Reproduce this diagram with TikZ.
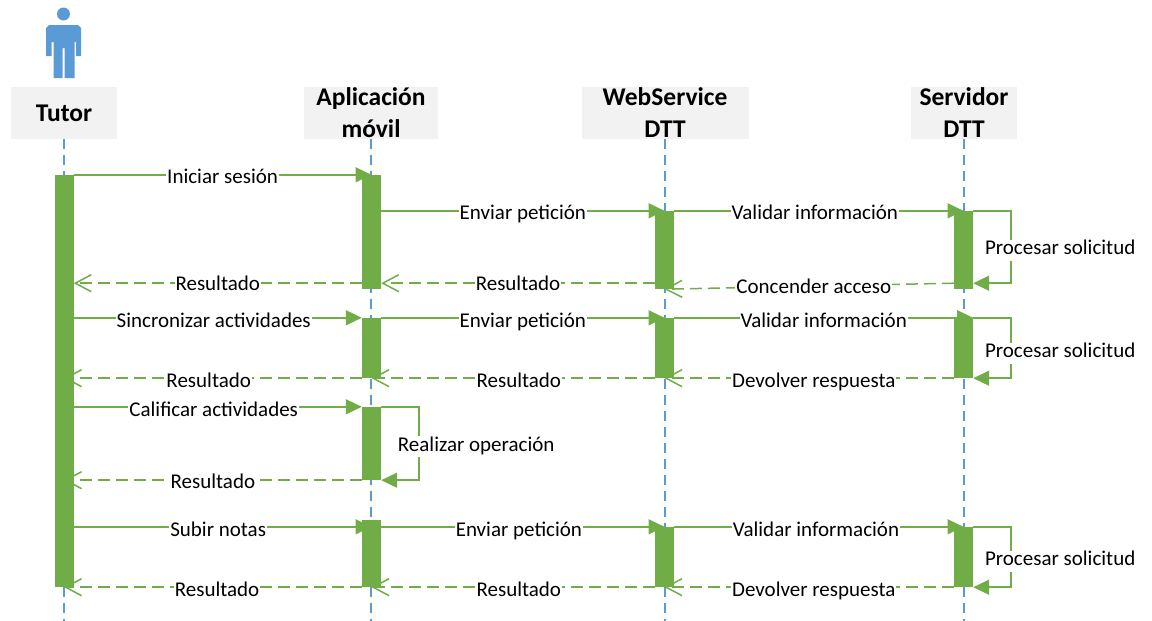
\documentclass[tikz,border=0pt]{standalone}
\usepackage{fontspec}
\setmainfont{Carlito}
\usetikzlibrary{arrows.meta,backgrounds}
\definecolor{barcolor}{RGB}{112,173,71}
\definecolor{linecolor}{RGB}{91,155,213}
\definecolor{headcolor}{RGB}{242,242,242}

\begin{document}
\begin{tikzpicture}
[
    x=1pt,y=-1pt,
    head/.style={rectangle,fill=headcolor,minimum height=52pt,inner sep=0pt,align=center,font=\bfseries\fontsize{25.5}{32}\selectfont},
    bar/.style={rectangle,fill=barcolor,minimum width=19pt,inner sep=0pt},
    lifeline/.style={draw=linecolor,line width=1.5pt,dash pattern=on 10pt off 6pt},
    call/.style={draw=barcolor,line width=1.5pt,-{Triangle[length=16pt,width=15pt]}},
    answer/.style={draw=barcolor,line width=1.5pt,dash pattern=on 12pt off 6pt,-{Straight Barb[length=16pt,width=17pt]}},
    msg/.style={fill=white,inner sep=1pt,text height=14pt,text depth=5pt,yshift=-3pt,font=\fontsize{21}{21}\selectfont},
    msglow/.style={msg,yshift=-2pt}
]
\useasboundingbox (0,0) rectangle (1152,621);

% persona
\fill[linecolor] (63.5,14) circle (6.5);
\fill[linecolor] (49,25) -- (78,25) -- (81,28) -- (81,56) -- (76,56) -- (76,42) -- (74.5,42) -- (74.5,78)
    -- (64.5,78) -- (64.5,48) -- (62.5,48) -- (62.5,78) -- (53.5,78) -- (53.5,42) -- (51.5,42) -- (51.5,56)
    -- (46,56) -- (46,28) -- cycle;

\node (tutor) at (64,113) [head,minimum width=106pt] {Tutor};
\node (app) at (371,113) [head,minimum width=134pt] {Aplicación\\móvil};
\node (ws) at (665,113) [head,minimum width=167pt] {WebService\\DTT};
\node (server) at (964,113) [head,minimum width=106pt] {Servidor\\DTT};
\coordinate (bottom) at (0,622);

\node (tutorBar) at (64,381) [bar,minimum height=412pt] {};
\node (appBarA) at (371.5,232) [bar,minimum height=114pt] {};
\node (appBarB) at (371.5,348) [bar,minimum height=60pt] {};
\node (appBarC) at (371.5,443.5) [bar,minimum height=73pt] {};
\node (appBarD) at (371.5,553.5) [bar,minimum height=67pt] {};
\node (wsBarA) at (664.5,250) [bar,minimum height=78pt] {};
\node (wsBarB) at (664.5,348) [bar,minimum height=60pt] {};
\node (wsBarD) at (664.5,557) [bar,minimum height=60pt] {};
\node (serverBarA) at (963.5,250) [bar,minimum height=78pt] {};
\node (serverBarB) at (963.5,348) [bar,minimum height=60pt] {};
\node (serverBarD) at (963.5,557) [bar,minimum height=60pt] {};

\begin{pgfonlayer}{background}
\draw[lifeline] (tutor.south) -- (tutor.south |- bottom);
\draw[lifeline] (app.south) -- (app.south |- bottom);
\draw[lifeline] (ws.south) -- (ws.south |- bottom);
\draw[lifeline] (server.south) -- (server.south |- bottom);

% primer bloque
\draw[call] (tutorBar.east |- appBarA.north) -- node[msg,yshift=-1pt] {Iniciar sesión} (appBarA.north);
\draw[call] (appBarA.east |- wsBarA.north) -- node[msg,yshift=-1pt] {Enviar petición} (wsBarA.north);
\draw[call] (wsBarA.north east) -- node[msg,yshift=-1pt,pos=.486] {Validar información} (serverBarA.north);
\end{pgfonlayer}

\draw[answer] ([yshift=6pt]appBarA.south west) -- node[msg] {Resultado} ([yshift=6pt]appBarA.south west -| tutorBar.east);
\draw[answer] ([yshift=6pt]wsBarA.south west) -- node[msg] {Resultado} ([yshift=6pt]wsBarA.south west -| appBarA.east);
\draw[answer] ([yshift=6pt]serverBarA.south west) -- node[msg,pos=.484] {Concender acceso} (wsBarA.south);
\draw[call] (serverBarA.north east) -- ++(38,0) |- node[msg,pos=.25,xshift=49pt] {Procesar solicitud} ([yshift=6pt]serverBarA.south east);

% segundo bloque
\draw[call] (tutorBar.east |- appBarB.north) -- node[msglow,pos=.486] {Sincronizar actividades} (appBarB.north west);
\draw[call] (appBarB.north east) -- node[msglow] {Enviar petición} (wsBarB.north);
\draw[call] (wsBarB.north east) -- node[msglow] {Validar información} (serverBarB.north east);
\draw[answer] (appBarB.south west) -- node[msglow,pos=.514] {Resultado} (appBarB.south west -| tutorBar.center);
\draw[answer] (wsBarB.south west) -- node[msglow,pos=.48] {Resultado} (appBarB.south);
\draw[answer] (serverBarB.south west) -- node[msglow,pos=.484] {Devolver respuesta} (wsBarB.south);
\draw[call] (serverBarB.north east) -- ++(38,0) |- node[msglow,pos=.25,xshift=49pt] {Procesar solicitud} (serverBarB.south east);

% tercer bloque
\draw[call] (tutorBar.east |- appBarC.north) -- node[msglow,pos=.486] {Calificar actividades} (appBarC.north west);
\draw[answer] (appBarC.south west) -- node[msg,yshift=-1pt] {Resultado} (appBarC.south west -| tutorBar.center);
\draw[call] (appBarC.north east) -- ++(38,0) |- node[msg,pos=.25,xshift=57pt] {Realizar operación} (appBarC.south east);

% cuarto bloque
\begin{pgfonlayer}{background}
\draw[call] (tutorBar.east |- wsBarD.north) -- node[msglow,pos=.485] {Subir notas} (wsBarD.north -| appBarD.center);
\draw[call] (wsBarD.north -| appBarD.east) -- node[msglow,pos=.486] {Enviar petición} (wsBarD.north);
\draw[call] (wsBarD.north east) -- node[msglow,pos=.49] {Validar información} (serverBarD.north);
\end{pgfonlayer}
\draw[answer] (appBarD.south west) -- node[msglow,pos=.486] {Resultado} (appBarD.south west -| tutorBar.center);
\draw[answer] (wsBarD.south west) -- node[msglow,pos=.48] {Resultado} (appBarD.south);
\draw[answer] (serverBarD.south west) -- node[msglow,pos=.484] {Devolver respuesta} (wsBarD.south);
\draw[call] (serverBarD.north east) -- ++(38,0) |- node[msg,yshift=-1pt,pos=.25,xshift=49pt] {Procesar solicitud} (serverBarD.south east);
\end{tikzpicture}
\end{document}
